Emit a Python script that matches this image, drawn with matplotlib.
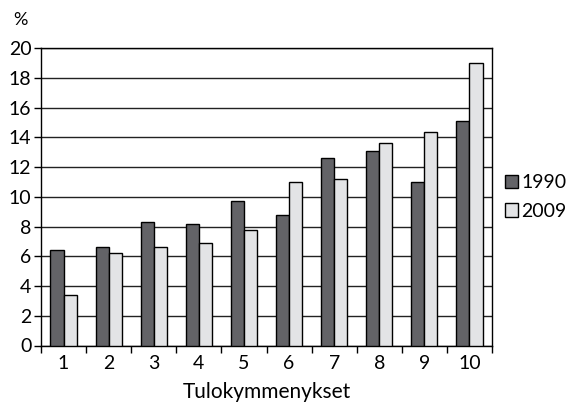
import numpy as np
import matplotlib
matplotlib.use("Agg")
import matplotlib.pyplot as plt

plt.rcParams['font.family'] = ['Lato', 'DejaVu Sans']

categories = ['1', '2', '3', '4', '5', '6', '7', '8', '9', '10']
v1990 = [6.4, 6.6, 8.3, 8.2, 9.7, 8.8, 12.6, 13.1, 11.0, 15.1]
v2009 = [3.4, 6.2, 6.6, 6.9, 7.8, 11.0, 11.2, 13.6, 14.4, 19.0]

x = np.arange(len(categories))
w = 0.29

fig = plt.figure(figsize=(5.71, 4.04), dpi=100)
ax = fig.add_axes([41/571, 1-345.5/404, (492-41)/571, (345.5-48.3)/404])

ax.bar(x - w/2, v1990, w, color='#636367', edgecolor='black', linewidth=1.0,
       label='1990', zorder=3)
ax.bar(x + w/2, v2009, w, color='#e3e4e6', edgecolor='black', linewidth=1.0,
       label='2009', zorder=3)

ax.set_xlim(-0.5, 9.5)
ax.set_ylim(0, 20)
ax.set_yticks(np.arange(0, 21, 2))
ax.set_xticks(x)
ax.set_xticklabels(categories)
ax.set_xticks(np.arange(-0.5, 10, 1), minor=True)
ax.tick_params(axis='x', which='major', length=0, labelsize=14, pad=7)
ax.tick_params(axis='x', which='minor', length=5, width=1, direction='out')
ax.tick_params(axis='y', length=5, width=1, direction='out', labelsize=14, pad=2)
ax.grid(axis='y', color='#222222', linewidth=1.0, zorder=0)
for s in ax.spines.values():
    s.set_linewidth(1.0)
    s.set_color('black')

ax.set_xlabel('Tulokymmenykset', fontsize=15, labelpad=7)
fig.text(20/571, 1-20/404, '%', fontsize=13, ha='center', va='center')

fig.legend(loc='center left', bbox_to_anchor=(505/571, 1-197/404), frameon=False,
           fontsize=14, handlelength=0.68, handleheight=0.68, handletextpad=0.15,
           labelspacing=0.6, borderpad=0, borderaxespad=0)

fig.savefig('out.png', dpi=100)
